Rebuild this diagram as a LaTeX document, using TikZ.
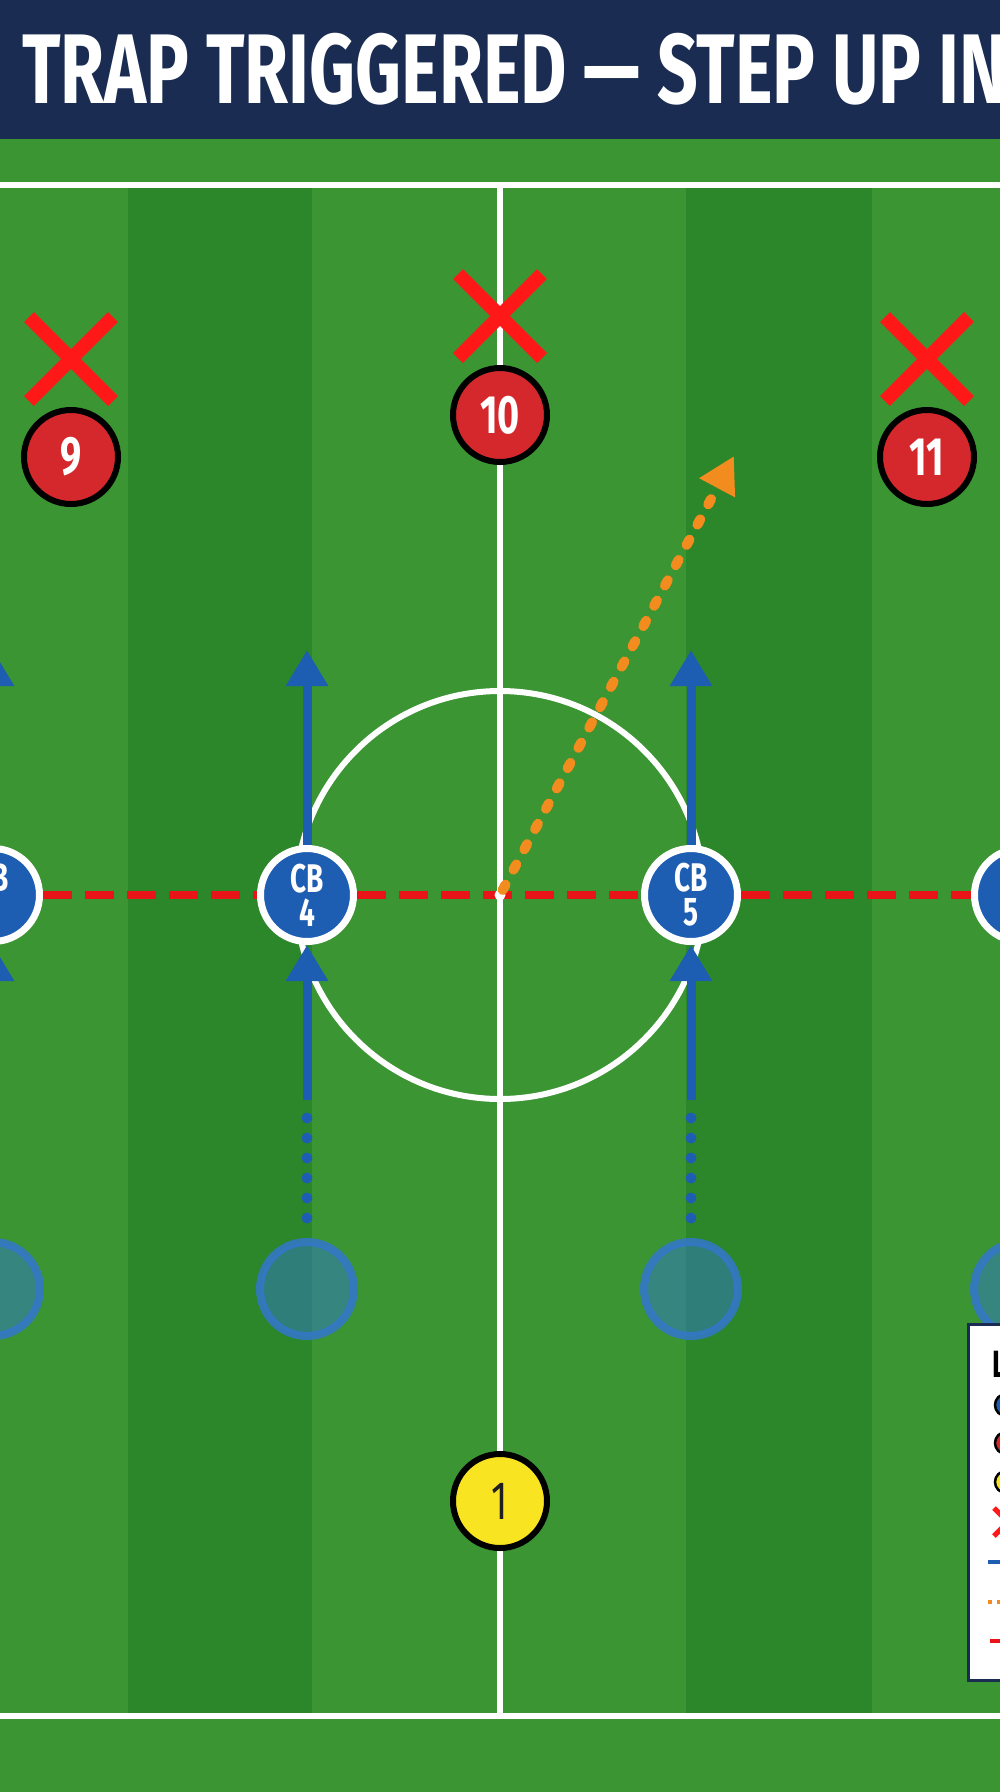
\documentclass[tikz,border=0pt]{standalone}
\usepackage{fontspec}
\usetikzlibrary{arrows.meta}
\newfontfamily\condfont[FakeStretch=0.7]{Fira Sans}
\newfontfamily\titlefont[FakeStretch=0.72]{Fira Sans}

\definecolor{navy}{RGB}{26,44,82}
\definecolor{pitchlight}{RGB}{58,149,50}
\definecolor{pitchdark}{RGB}{43,135,41}
\definecolor{cbblue}{RGB}{30,94,178}
\definecolor{ghostblue}{RGB}{52,118,204}
\definecolor{oppred}{RGB}{212,40,44}
\definecolor{crossred}{RGB}{255,24,24}
\definecolor{holdred}{RGB}{232,20,24}
\definecolor{passorange}{RGB}{242,140,30}
\definecolor{keeperyellow}{RGB}{248,228,32}

\tikzset{
  pitchline/.style={draw=white, line width=6pt},
  cbplayer/.style={circle, draw=white, line width=7pt, fill=cbblue, minimum size=93pt, inner sep=0pt,
    text=white, align=center, font=\condfont\bfseries\fontsize{40}{34}\selectfont},
  ghost/.style={circle, minimum size=94pt, inner sep=0pt, line width=8pt, draw=ghostblue, draw opacity=0.85,
    fill=ghostblue, fill opacity=0.5},
  oppplayer/.style={circle, draw=black, line width=6pt, fill=oppred, minimum size=94pt, inner sep=0pt,
    text=white, font=\condfont\bfseries\fontsize{54}{54}\selectfont},
  keeper/.style={circle, draw=black, line width=6pt, fill=keeperyellow, minimum size=94pt, inner sep=0pt,
    text=black!88, font=\condfont\fontsize{54}{54}\selectfont},
  crossmark/.style={draw=crossred, line width=14pt},
  runarrow/.style={draw=cbblue, line width=9pt, -{Triangle[width=40pt,length=36pt]}},
  trail/.style={draw=cbblue, line width=11pt, line cap=round, dash pattern=on 0pt off 20pt, shorten <=20pt},
  holdline/.style={draw=holdred, line width=8pt, dash pattern=on 29pt off 13pt},
  passrun/.style={draw=passorange, line width=10pt, line cap=round, dash pattern=on 6pt off 17pt,
    -{Triangle[width=38pt,length=36pt]}}
}
\def\redcross(#1,#2){\draw[crossmark] (#1-42,#2-42) -- (#1+42,#2+42) (#1-42,#2+42) -- (#1+42,#2-42);}

\begin{document}
\begin{tikzpicture}[x=1pt, y=-1pt]
  %%%%% START %%%%%
  \useasboundingbox (0,0) rectangle (1000,1792);

  % pitch
  \fill[pitchlight] (0,139) rectangle (1000,1792);
  \fill[pitchdark] (128,185) rectangle (312,1716);
  \fill[pitchdark] (686,185) rectangle (872,1716);
  \draw[pitchline] (0,185) -- (1000,185);
  \draw[pitchline] (0,1716) -- (1000,1716);
  \draw[pitchline] (500,185) -- (500,1716);
  \draw[pitchline] (500,895) circle [radius=204pt];

  % back line
  \node[cbplayer] (cbL) at (-7,895) {LB\\3};
  \node[cbplayer] (cb4) at (307,895) {CB\\4};
  \node[cbplayer] (cb5) at (691,895) {CB\\5};
  \node[cbplayer] (cbR) at (1021,895) {RB\\2};

  \node[ghost] (ghostL) at (-7,1289) {};
  \node[ghost] (ghost4) at (307,1289) {};
  \node[ghost] (ghost5) at (691,1289) {};
  \node[ghost] (ghostR) at (1021,1289) {};

  \draw[holdline] (cbL) -- (cb4);
  \draw[holdline] (cb4) -- (cb5);
  \draw[holdline] (cb5) -- (cbR);

  % step up
  \coordinate (cbLup) at (-7,650);
  \coordinate (cb4up) at (307,650);
  \coordinate (cb5up) at (691,650);
  \coordinate (cbRup) at (1021,650);
  \coordinate (cbLlow) at (-7,1100);
  \coordinate (cb4low) at (307,1100);
  \coordinate (cb5low) at (691,1100);
  \coordinate (cbRlow) at (1021,1100);

  \draw[runarrow] (cbL) -- (cbLup);
  \draw[runarrow] (cb4) -- (cb4up);
  \draw[runarrow] (cb5) -- (cb5up);
  \draw[runarrow] (cbR) -- (cbRup);
  \draw[runarrow] (cbLlow) -- (cbL);
  \draw[runarrow] (cb4low) -- (cb4);
  \draw[runarrow] (cb5low) -- (cb5);
  \draw[runarrow] (cbRlow) -- (cbR);
  \draw[trail] (ghostL) -- (cbLlow);
  \draw[trail] (ghost4) -- (cb4low);
  \draw[trail] (ghost5) -- (cb5low);
  \draw[trail] (ghostR) -- (cbRlow);

  % ball
  \node[circle, fill=white, minimum size=11pt, inner sep=0pt] (spot) at (500,895) {};
  \coordinate (passtip) at (734,456);
  \draw[passrun] (spot) -- (passtip);

  % forwards
  \redcross(71,359)
  \redcross(500,316)
  \redcross(927,359)
  \node[oppplayer] (opp9) at (71,457) {9};
  \node[oppplayer] (opp10) at (500,415) {10};
  \node[oppplayer] (opp11) at (927,457) {11};

  \node[keeper] (gk1) at (500,1501) {1};

  % legend
  \draw[fill=white, draw=navy, line width=3pt] (968,1324) rectangle (1012,1680);
  \node[anchor=base west, inner sep=0pt, font=\condfont\bfseries\fontsize{38}{38}\selectfont] (legendtitle) at (992,1377) {LEGEND};
  \draw[fill=cbblue, draw=black, line width=2.5pt] (1006,1405) circle [radius=11pt];
  \draw[fill=oppred, draw=black, line width=2.5pt] (1006,1443) circle [radius=11pt];
  \draw[fill=keeperyellow, draw=black, line width=2.5pt] (1006,1482) circle [radius=11pt];
  \draw[draw=crossred, line width=5pt] (994,1508) -- (1022,1536) (994,1536) -- (1022,1508);
  \draw[draw=cbblue, line width=4pt] (988,1562) -- (1012,1562);
  \draw[draw=passorange, line width=4pt, dash pattern=on 4pt off 5pt] (988,1602) -- (1012,1602);
  \draw[draw=holdred, line width=4pt, dash pattern=on 12pt off 6pt] (990,1641) -- (1012,1641);

  % title
  \fill[navy] (0,0) rectangle (1000,139);
  \node[anchor=base west, inner sep=0pt, text=white, font=\titlefont\bfseries\fontsize{99}{99}\selectfont] (title) at (22,103) {TRAP TRIGGERED — STEP UP IN};
  %%%%% END %%%%%
\end{tikzpicture}
\end{document}
